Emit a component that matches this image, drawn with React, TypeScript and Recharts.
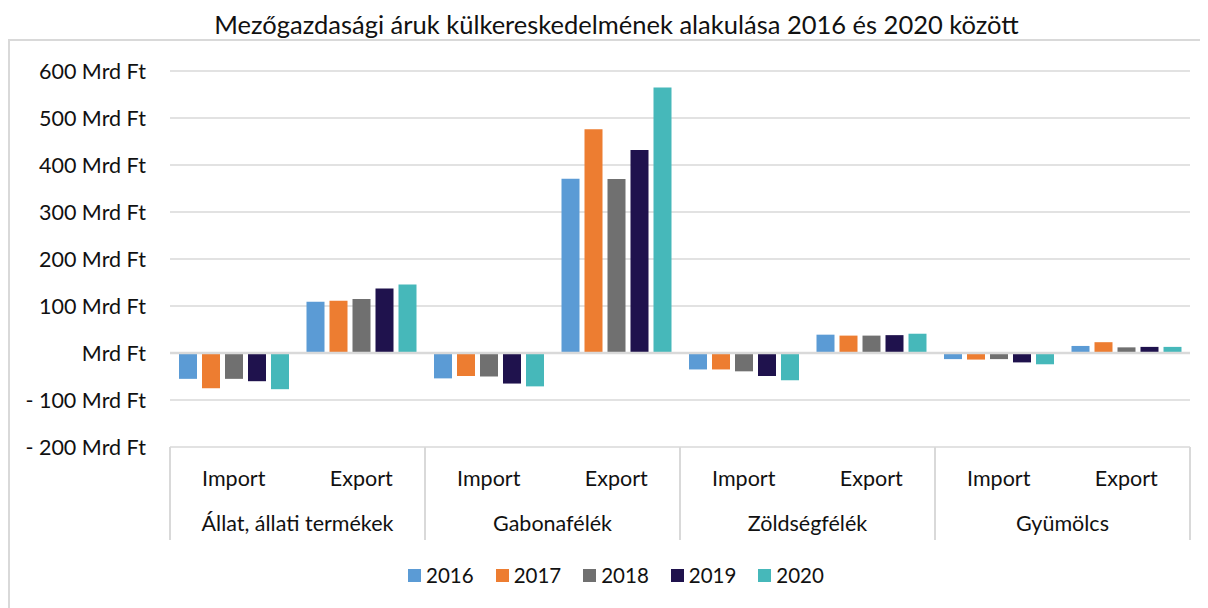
import { BarChart, Bar, XAxis, YAxis, CartesianGrid, ReferenceLine } from "recharts"

const groups = ["Állat, állati termékek", "Gabonafélék", "Zöldségfélék", "Gyümölcs"]
const flows = ["Import", "Export"]
const years = ["2016", "2017", "2018", "2019", "2020"]
const colors = ["#5B9BD5", "#ED7D31", "#707070", "#1F124D", "#46B8BA"]

// Mrd Ft, order: group x (Import, Export)
const v2016 = [-55, 109, -54, 371, -35, 39, -13, 15]
const v2017 = [-75, 111, -49, 476, -35, 37, -14, 23]
const v2018 = [-55, 115, -50, 370, -39, 37, -13, 12]
const v2019 = [-60, 137, -65, 432, -49, 38, -20, 13]
const v2020 = [-77, 146, -71, 565, -58, 41, -24, 13]
const yTicks = [-200, -100, 0, 100, 200, 300, 400, 500, 600]

const series = [v2016, v2017, v2018, v2019, v2020]

const rows = groups.flatMap((g, gi) =>
  flows.map((f, fi) => {
    const i = gi * flows.length + fi
    const row: Record<string, string | number> = { key: `${g}-${f}`, group: g, flow: f }
    years.forEach((y, yi) => {
      row[y] = series[yi][i]
    })
    return row
  })
)

const W = 1200
const H = 600
const M = { top: 63, right: 18, bottom: 66, left: 0 }
const Y_W = 162
const X_H = 95
const PLOT_W = W - M.left - M.right - Y_W
const BAND = PLOT_W / rows.length

const FONT = "Lato, 'Open Sans', sans-serif"
const GRID = "#D9D9D9"
const TXT = "#111"

const fmt = (v: number) => (v === 0 ? "Mrd Ft" : v < 0 ? `- ${-v} Mrd Ft` : `${v} Mrd Ft`)

function CatTick(props: any) {
  const { x, y, index } = props
  const row = rows[index]
  const isFirst = index % flows.length === 0
  const isLast = index === rows.length - 1
  return (
    <g>
      <text x={x} y={y + 39} textAnchor="middle" fontSize={21.5} fill={TXT} fontFamily={FONT}>
        {row.flow}
      </text>
      {isFirst && (
        <>
          <line x1={x - BAND / 2} x2={x - BAND / 2} y1={y} y2={y + 93} stroke={GRID} strokeWidth={2} />
          <text x={x + BAND / 2} y={y + 84} textAnchor="middle" fontSize={21.5} fill={TXT} fontFamily={FONT}>
            {row.group}
          </text>
        </>
      )}
      {isLast && <line x1={x + BAND / 2} x2={x + BAND / 2} y1={y} y2={y + 93} stroke={GRID} strokeWidth={2} />}
    </g>
  )
}

export default function App() {
  return (
    <div style={{ position: "relative", width: W, height: H, fontFamily: FONT, background: "#fff" }}>
      <div
        style={{
          position: "absolute",
          left: 0,
          top: 31,
          width: W,
          height: H - 31,
          borderLeft: `2px solid ${GRID}`,
          borderTop: `2px solid ${GRID}`,
          boxSizing: "border-box",
        }}
      />
      <div
        style={{
          position: "absolute",
          left: 0,
          top: 1,
          width: 1217,
          textAlign: "center",
          fontSize: 25.5,
          color: TXT,
          lineHeight: "30px",
        }}
      >
        Mezőgazdasági áruk külkereskedelmének alakulása 2016 és 2020 között
      </div>
      <div style={{ position: "absolute", left: 0, top: 0 }}>
        <BarChart width={W} height={H} data={rows} margin={M} barSize={18} barGap={5}>
          <CartesianGrid vertical={false} stroke={GRID} strokeWidth={1.5} />
          <YAxis
            domain={[-200, 600]}
            ticks={yTicks}
            tickFormatter={fmt}
            axisLine={false}
            tickLine={false}
            width={Y_W}
            tickMargin={18}
            tick={{ fill: TXT, fontSize: 21.5, fontFamily: FONT }}
          />
          <XAxis
            dataKey="key"
            height={X_H}
            axisLine={false}
            tickLine={false}
            tickSize={0}
            tickMargin={0}
            interval={0}
            tick={<CatTick />}
          />
          <ReferenceLine y={0} stroke={GRID} strokeWidth={2.5} />
          {years.map((y, i) => (
            <Bar key={y} dataKey={y} fill={colors[i]} isAnimationActive={false} />
          ))}
        </BarChart>
      </div>
      <div
        style={{
          position: "absolute",
          left: 0,
          top: 555,
          width: 1216,
          display: "flex",
          justifyContent: "center",
          gap: 22,
          fontSize: 20.5,
          color: TXT,
        }}
      >
        {years.map((y, i) => (
          <div key={y} style={{ display: "flex", alignItems: "center", gap: 5 }}>
            <span style={{ width: 13, height: 13, background: colors[i], display: "inline-block" }} />
            <span>{y}</span>
          </div>
        ))}
      </div>
    </div>
  )
}
